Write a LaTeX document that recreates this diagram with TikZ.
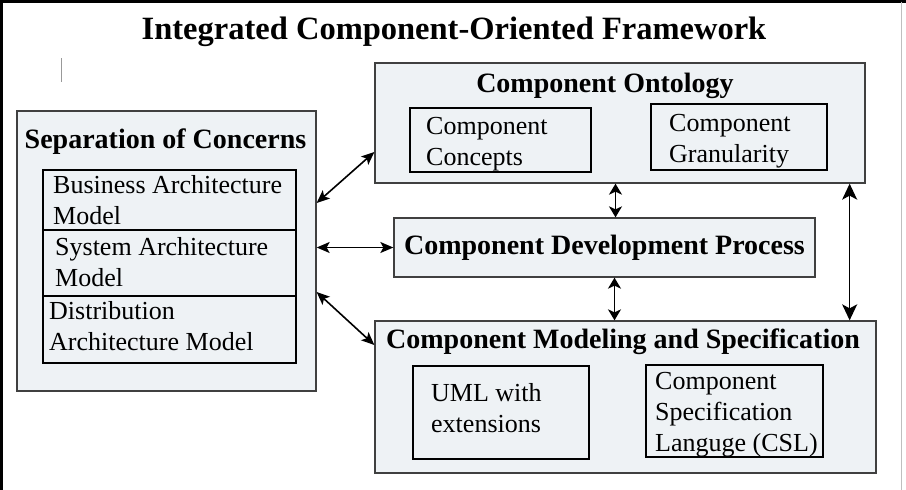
\documentclass[tikz,border=0pt]{standalone}
\usepackage{fontspec}
\setmainfont{Liberation Serif}
\usetikzlibrary{arrows.meta}
\definecolor{fondbloc}{RGB}{238,242,245}
\newcommand{\grasfont}{\fontsize{28}{34}\selectfont\bfseries}

\begin{document}
\begin{tikzpicture}[x=1pt,y=-1pt]
\tikzset{grosbloc/.style={draw=black!75, line width=1.3pt, fill=fondbloc, inner sep=0pt},
petitbloc/.style={draw=black, line width=2pt, fill=fondbloc, inner sep=0pt},
titre/.style={font=\grasfont, inner sep=0pt, anchor=base},
texte/.style={font=\fontsize{26}{31}\selectfont, align=left, inner sep=0pt, anchor=west},
fleche/.style={line width=1.6pt, {Stealth[length=13pt,width=11pt,inset=3pt]}-{Stealth[length=13pt,width=11pt,inset=3pt]}},
courtefleche/.style={line width=1.6pt, {Stealth[length=11pt,width=13pt,inset=3pt]}-{Stealth[length=11pt,width=13pt,inset=3pt]}},
grandefleche/.style={line width=1.6pt, {Stealth[length=16pt,width=15pt,inset=4pt]}-{Stealth[length=16pt,width=15pt,inset=4pt]}}}
\useasboundingbox (0,0) rectangle (906,490);
\draw[line width=3pt] (1.5,490) -- (1.5,1.5) -- (906,1.5);
\draw[black!25] (901,1.5) -- (901,490);
\draw[black!40] (61,58) -- (61,82);
\node[font=\fontsize{32.5}{38}\selectfont\bfseries, inner sep=0pt, anchor=base] (T) at (454,39) {Integrated Component-Oriented Framework};
\node[grosbloc, minimum width=299pt, minimum height=280pt] (SC) at (166.5,251) {};
\node[titre] (SCt) at (165.5,148) {Separation of Concerns};
\node[petitbloc, minimum width=253pt, minimum height=60pt] (BA) at (169.5,200) {};
\node[petitbloc, minimum width=253pt, minimum height=66pt] (SA) at (169.5,263) {};
\node[petitbloc, minimum width=253pt, minimum height=67pt] (DA) at (169.5,329.5) {};
\node[texte] (BAt) at (53,200) {Business Architecture\\Model};
\node[texte] (SAt) at (55,262.5) {System Architecture\\Model};
\node[texte] (DAt) at (49,326.5) {Distribution\\Architecture Model};
\node[grosbloc, minimum width=490pt, minimum height=120pt] (CO) at (620,123) {};
\node[titre] (COt) at (605,92) {Component Ontology};
\node[petitbloc, minimum width=181pt, minimum height=64pt] (CC) at (500.5,140) {};
\node[petitbloc, minimum width=176pt, minimum height=66pt] (CG) at (739,137) {};
\node[texte] (CCt) at (426,144) {Component\\Concepts};
\node[texte] (CGt) at (669,141.5) {Component\\Granularity};
\node[grosbloc, font=\grasfont, minimum width=421pt, minimum height=59pt] (CDP) at (604.5,247.5) {Component Development Process};
\node[grosbloc, minimum width=501pt, minimum height=152pt] (CMS) at (625.5,397) {};
\node[titre] (CMSt) at (623,348) {Component Modeling and Specification};
\node[petitbloc, minimum width=176pt, minimum height=93pt] (UML) at (501,412.5) {};
\node[petitbloc, minimum width=177pt, minimum height=92pt] (CSL) at (734.5,411) {};
\node[texte] (UMLt) at (431,408) {UML with\\extensions};
\node[texte] (CSLt) at (655,414.5) {Component\\Specification\\Languge (CSL)};
\coordinate (P1) at ([xshift=11pt]CDP.north);
\coordinate (P2) at ([xshift=10pt]CDP.south);
\coordinate (P3) at ([xshift=-16pt]CO.south east);
\draw[fleche] ([yshift=48pt]SC.east) -- ([yshift=-29pt]CO.west);
\draw[fleche] (SC.east |- CDP.west) -- (CDP.west);
\draw[fleche] ([yshift=-41pt]SC.east) -- ([yshift=52pt]CMS.west);
\draw[courtefleche] (P1 |- CO.south) -- (P1);
\draw[courtefleche] (P2) -- (P2 |- CMS.north);
\draw[grandefleche] (P3) -- (P3 |- CMS.north);
\end{tikzpicture}
\end{document}
